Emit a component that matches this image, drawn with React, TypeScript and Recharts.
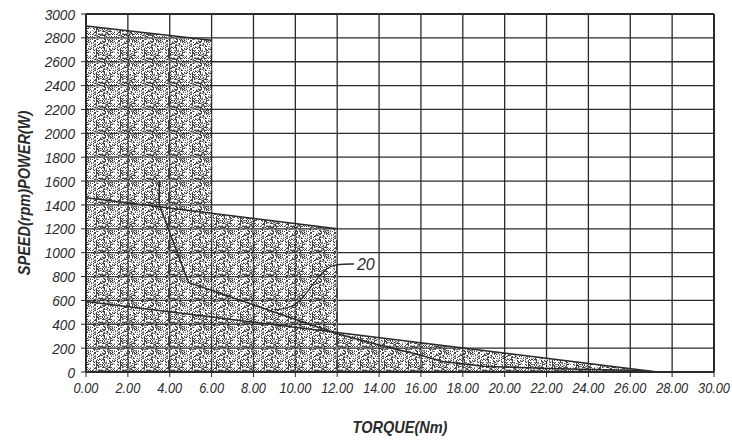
import React from "react";
import {
  ComposedChart,
  Area,
  Line,
  XAxis,
  YAxis,
  CartesianGrid,
  ReferenceLine,
  ReferenceDot,
} from "recharts";

// torque (Nm) vs speed / power envelopes
const xTicks = [0, 2, 4, 6, 8, 10, 12, 14, 16, 18, 20, 22, 24, 26, 28, 30];
const yTicks = [0, 200, 400, 600, 800, 1000, 1200, 1400, 1600, 1800, 2000, 2200, 2400, 2600, 2800, 3000];

const region1 = [
  { x: 0, y: 2900 },
  { x: 6, y: 2780 },
];
const region2 = [
  { x: 0, y: 1460 },
  { x: 12, y: 1200 },
];
const region3 = [
  { x: 0, y: 590 },
  { x: 27.3, y: 0 },
];
const curve20 = [
  { x: 3.5, y: 1600 },
  { x: 3.5, y: 1400 },
  { x: 4.9, y: 750 },
  { x: 12, y: 320 },
  { x: 14, y: 226 },
  { x: 16, y: 140 },
  { x: 17, y: 88 },
  { x: 19, y: 48 },
  { x: 22, y: 30 },
  { x: 26, y: 14 },
  { x: 27.3, y: 0 },
];
const leader20 = [
  { x: 9.0, y: 520 },
  { x: 10.0, y: 540 },
  { x: 10.7, y: 700 },
  { x: 11.4, y: 870 },
  { x: 12.0, y: 905 },
  { x: 12.8, y: 905 },
];

const ink = "#2a2a2a";
const font = "'Liberation Sans', Arial, sans-serif";
const squeeze = 0.88;

// stipple: fixed hashed dot layout in a tile
const SIZE = 24;
const dots: { i: number; j: number; c: string }[] = [];
for (let i = 0; i < SIZE; i++) {
  for (let j = 0; j < SIZE; j++) {
    const h = ((i * 2654435761) ^ (j * 40503 + i * j * 97)) >>> 0;
    const v = h % 100;
    if (v < 28) dots.push({ i, j, c: "#454545" });
    else if (v < 48) dots.push({ i, j, c: "#9a9a9a" });
  }
}

const XTick = (props: any) => {
  const { x, y, payload } = props;
  return (
    <text
      transform={`translate(${x},${y}) scale(${squeeze},1)`}
      textAnchor="middle"
      dy="0.9em"
      fill={ink}
      fontFamily={font}
      fontStyle="italic"
      fontSize={14.5}
    >
      {Number(payload.value).toFixed(2)}
    </text>
  );
};

const YTick = (props: any) => {
  const { x, y, payload } = props;
  return (
    <text
      transform={`translate(${x},${y}) scale(${squeeze},1)`}
      textAnchor="end"
      dy="0.36em"
      fill={ink}
      fontFamily={font}
      fontStyle="italic"
      fontSize={15.5}
    >
      {payload.value}
    </text>
  );
};

const titleStyle = {
  fill: ink,
  fontFamily: font,
  fontStyle: "italic",
  fontWeight: "bold",
  fontSize: 16.5,
} as const;

export default function App() {
  return (
    <div style={{ position: "absolute", left: 0, top: 0 }}>
      <ComposedChart
        width={732}
        height={444}
        margin={{ top: 14, right: 18, left: 0, bottom: 0 }}
      >
        <defs>
          <pattern id="stipple" width={SIZE} height={SIZE} patternUnits="userSpaceOnUse" x={0} y={0}>
            {dots.map((d) => (
              <rect key={`${d.i}-${d.j}`} x={d.i} y={d.j} width={1} height={1} fill={d.c} shapeRendering="crispEdges" />
            ))}
          </pattern>
        </defs>
        <CartesianGrid stroke={ink} strokeWidth={1.3} />
        <XAxis
          type="number"
          dataKey="x"
          domain={[0, 30]}
          ticks={xTicks}
          height={72}
          tickSize={5}
          tickMargin={3}
          stroke={ink}
          axisLine={{ stroke: ink, strokeWidth: 2 }}
          tick={<XTick />}
          label={{
            content: () => (
              <text
                transform={`translate(400,433) scale(${squeeze},1)`}
                textAnchor="middle"
                {...titleStyle}
              >
                TORQUE(Nm)
              </text>
            ),
          }}
        />
        <YAxis
          type="number"
          domain={[0, 3000]}
          ticks={yTicks}
          width={86}
          tickSize={5}
          tickMargin={6}
          stroke={ink}
          axisLine={{ stroke: ink, strokeWidth: 2 }}
          tick={<YTick />}
          label={{
            content: () => (
              <text
                transform={`translate(30,193) rotate(-90) scale(${squeeze},1)`}
                textAnchor="middle"
                {...titleStyle}
              >
                SPEED(rpm)POWER(W)
              </text>
            ),
          }}
        />
        <Area data={region1} dataKey="y" type="linear" fill="url(#stipple)" fillOpacity={1} stroke={ink} strokeWidth={1.5} isAnimationActive={false} />
        <Area data={region2} dataKey="y" type="linear" fill="url(#stipple)" fillOpacity={1} stroke={ink} strokeWidth={1.5} isAnimationActive={false} />
        <Area data={region3} dataKey="y" type="linear" fill="url(#stipple)" fillOpacity={1} stroke={ink} strokeWidth={1.5} isAnimationActive={false} />
        <Line data={curve20} dataKey="y" type="linear" stroke={ink} strokeWidth={1.5} dot={false} isAnimationActive={false} />
        <Line data={leader20} dataKey="y" type="basis" stroke={ink} strokeWidth={1.3} dot={false} isAnimationActive={false} />
        <ReferenceLine x={30} stroke={ink} strokeWidth={2} />
        <ReferenceLine y={3000} stroke={ink} strokeWidth={2} />
        <ReferenceDot
          x={12.8}
          y={905}
          r={0}
          stroke="none"
          label={{
            value: "20",
            position: "right",
            offset: 3,
            style: { fill: ink, fontFamily: font, fontStyle: "italic", fontSize: 16 },
          }}
        />
      </ComposedChart>
    </div>
  );
}
